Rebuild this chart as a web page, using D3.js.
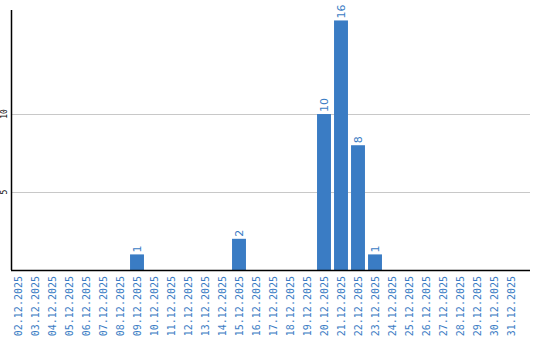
<!DOCTYPE html>
<html lang="en">
<head>
  <meta charset="UTF-8">
  <title>barchart</title>
  <script src="https://cdn.jsdelivr.net/npm/d3@7"></script>
  <style>
    body { margin: 0; background: #fff; }
  </style>
</head>
<body>
  <svg width="540" height="340" id="mainsvg"></svg>
  <script>
    const dates = ['02.12.2025','03.12.2025','04.12.2025','05.12.2025','06.12.2025','07.12.2025',
      '08.12.2025','09.12.2025','10.12.2025','11.12.2025','12.12.2025','13.12.2025','14.12.2025',
      '15.12.2025','16.12.2025','17.12.2025','18.12.2025','19.12.2025','20.12.2025','21.12.2025',
      '22.12.2025','23.12.2025','24.12.2025','25.12.2025','26.12.2025','27.12.2025','28.12.2025',
      '29.12.2025','30.12.2025','31.12.2025']
    const counts = [0,0,0,0,0,0,0,1,0,0,0,0,0,2,0,0,0,0,10,16,8,1,0,0,0,0,0,0,0,0]
    const yTicks = [5, 10]

    const blue = '#3a7cc4'
    const svg = d3.select('#mainsvg')
    const axisLeftX = 11, baseY = 270, topY = 10, rightX = 530

    const xScale = d3.scaleBand()
      .domain(dates)
      .range([9.5, 519.5])
      .paddingInner(0.18)
      .paddingOuter(0.09)

    const yScale = d3.scaleLinear()
      .domain([0, 16.67])
      .range([baseY, topY])

    // grid lines
    svg.append('g').selectAll('line').data(yTicks).join('line')
      .attr('x1', axisLeftX).attr('x2', rightX)
      .attr('y1', d => Math.round(yScale(d)) + 0.5)
      .attr('y2', d => Math.round(yScale(d)) + 0.5)
      .attr('stroke', '#c8c8c8')

    // y tick labels
    svg.append('g').selectAll('text').data(yTicks).join('text')
      .attr('transform', d => `translate(7,${yScale(d)}) rotate(-90)`)
      .attr('text-anchor', 'middle')
      .attr('font-family', 'DejaVu Sans Mono, monospace')
      .attr('font-size', 8)
      .attr('fill', '#000')
      .text(d => d)

    // bars
    svg.append('g').selectAll('rect').data(dates).join('rect')
      .attr('x', d => xScale(d))
      .attr('width', xScale.bandwidth())
      .attr('y', (d, i) => yScale(counts[i]))
      .attr('height', (d, i) => baseY - yScale(counts[i]))
      .attr('fill', blue)

    // value labels
    svg.append('g').selectAll('text').data(dates.filter((d, i) => counts[i] > 0)).join('text')
      .attr('transform', d => `translate(${xScale(d) + xScale.bandwidth() / 2 + 4},${yScale(counts[dates.indexOf(d)]) - 2}) rotate(-90)`)
      .attr('font-family', 'DejaVu Sans, sans-serif')
      .attr('font-size', 11)
      .attr('fill', blue)
      .text(d => counts[dates.indexOf(d)])

    // axes lines
    svg.append('line')
      .attr('x1', axisLeftX + 0.5).attr('x2', axisLeftX + 0.5)
      .attr('y1', topY).attr('y2', baseY)
      .attr('stroke', '#000').attr('stroke-width', 1.5)
    svg.append('line')
      .attr('x1', axisLeftX).attr('x2', rightX)
      .attr('y1', baseY + 0.5).attr('y2', baseY + 0.5)
      .attr('stroke', '#000').attr('stroke-width', 1.5)

    // x tick labels
    svg.append('g').selectAll('text').data(dates).join('text')
      .attr('transform', d => `translate(${xScale(d) + xScale.bandwidth() / 2 + 4},276) rotate(-90)`)
      .attr('text-anchor', 'end')
      .attr('font-family', 'DejaVu Sans Mono, monospace')
      .attr('font-size', 10)
      .attr('fill', blue)
      .text(d => d)
  </script>
</body>
</html>
